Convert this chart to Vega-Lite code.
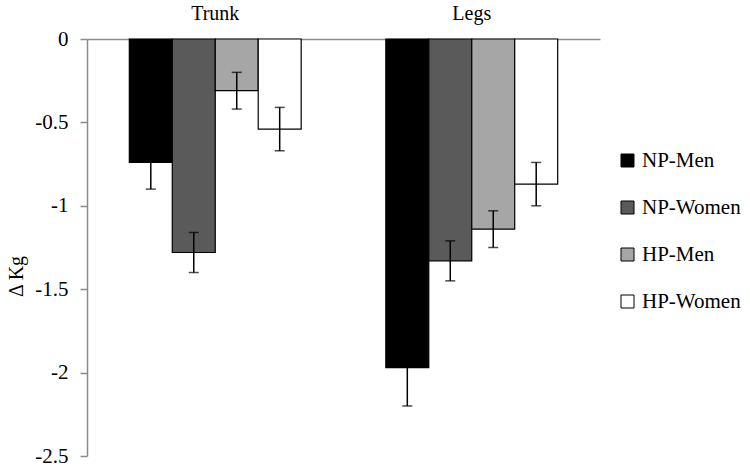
{
  "$schema": "https://vega.github.io/schema/vega-lite/v6.json",
  "width": 513,
  "height": 417,
  "autosize": {"type": "none"},
  "padding": {"left": 87, "top": 39, "right": 150, "bottom": 11},
  "background": "white",
  "config": {
    "view": {"stroke": null},
    "font": "Liberation Serif",
    "axis": {"labelFont": "Liberation Serif", "titleFont": "Liberation Serif", "grid": false},
    "legend": {"labelFont": "Liberation Serif"}
  },
  "data": {
    "values": [
      {"region": "Trunk", "group": "NP-Men", "value": -0.74, "lo": -0.90, "hi": -0.58},
      {"region": "Trunk", "group": "NP-Women", "value": -1.28, "lo": -1.40, "hi": -1.16},
      {"region": "Trunk", "group": "HP-Men", "value": -0.31, "lo": -0.42, "hi": -0.20},
      {"region": "Trunk", "group": "HP-Women", "value": -0.54, "lo": -0.67, "hi": -0.41},
      {"region": "Legs", "group": "NP-Men", "value": -1.97, "lo": -2.20, "hi": -1.74},
      {"region": "Legs", "group": "NP-Women", "value": -1.33, "lo": -1.45, "hi": -1.21},
      {"region": "Legs", "group": "HP-Men", "value": -1.14, "lo": -1.25, "hi": -1.03},
      {"region": "Legs", "group": "HP-Women", "value": -0.87, "lo": -1.00, "hi": -0.74}
    ]
  },
  "encoding": {
    "x": {
      "field": "region",
      "type": "nominal",
      "sort": ["Trunk", "Legs"],
      "scale": {"paddingInner": 0.33, "paddingOuter": 0.165},
      "axis": {
        "orient": "top",
        "title": null,
        "labelAngle": 0,
        "ticks": false,
        "labelPadding": 16,
        "labelFontSize": 20,
        "labelColor": "#000000",
        "domainColor": "#8c8c8c",
        "domainWidth": 1.5
      }
    },
    "xOffset": {
      "field": "group",
      "type": "nominal",
      "sort": ["NP-Men", "NP-Women", "HP-Men", "HP-Women"],
      "scale": {"paddingInner": 0, "paddingOuter": 0}
    }
  },
  "layer": [
    {
      "mark": {"type": "bar", "stroke": "#000000", "strokeWidth": 1.2},
      "encoding": {
        "y": {
          "field": "value",
          "type": "quantitative",
          "scale": {"domain": [-2.5, 0], "nice": false, "zero": false},
          "axis": {
            "values": [0, -0.5, -1, -1.5, -2, -2.5],
            "labelExpr": "toString(datum.value)",
            "title": "Δ Kg",
            "titleFontSize": 20,
            "titleFontWeight": "normal",
            "titleColor": "#000000",
            "titleX": -71,
            "titleY": 237,
            "titleAngle": -90,
            "titleAlign": "center",
            "titleBaseline": "middle",
            "labelFontSize": 21,
            "labelColor": "#000000",
            "labelPadding": 12,
            "tickSize": 7,
            "tickColor": "#8c8c8c",
            "domainColor": "#8c8c8c",
            "domainWidth": 1.5,
            "tickWidth": 1.5
          }
        },
        "fill": {
          "field": "group",
          "type": "nominal",
          "sort": ["NP-Men", "NP-Women", "HP-Men", "HP-Women"],
          "scale": {
            "domain": ["NP-Men", "NP-Women", "HP-Men", "HP-Women"],
            "range": ["#000000", "#5a5a5a", "#a6a6a6", "#ffffff"]
          },
          "legend": {
            "title": null,
            "orient": "none",
            "legendX": 530,
            "legendY": 111,
            "padding": 0,
            "symbolType": "square",
            "symbolSize": 169,
            "symbolStrokeColor": "#000000",
            "symbolStrokeWidth": 1,
            "symbolOpacity": 1,
            "labelFontSize": 21,
            "labelColor": "#000000",
            "labelOffset": 4,
            "rowPadding": 25
          }
        }
      }
    },
    {
      "mark": {"type": "rule", "color": "#000000", "strokeWidth": 1.5},
      "encoding": {
        "y": {"field": "lo", "type": "quantitative"},
        "y2": {"field": "hi"}
      }
    },
    {
      "mark": {"type": "tick", "color": "#000000", "thickness": 1.5, "size": 10, "orient": "horizontal"},
      "encoding": {"y": {"field": "lo", "type": "quantitative"}}
    },
    {
      "mark": {"type": "tick", "color": "#000000", "thickness": 1.5, "size": 10, "orient": "horizontal"},
      "encoding": {"y": {"field": "hi", "type": "quantitative"}}
    }
  ]
}
